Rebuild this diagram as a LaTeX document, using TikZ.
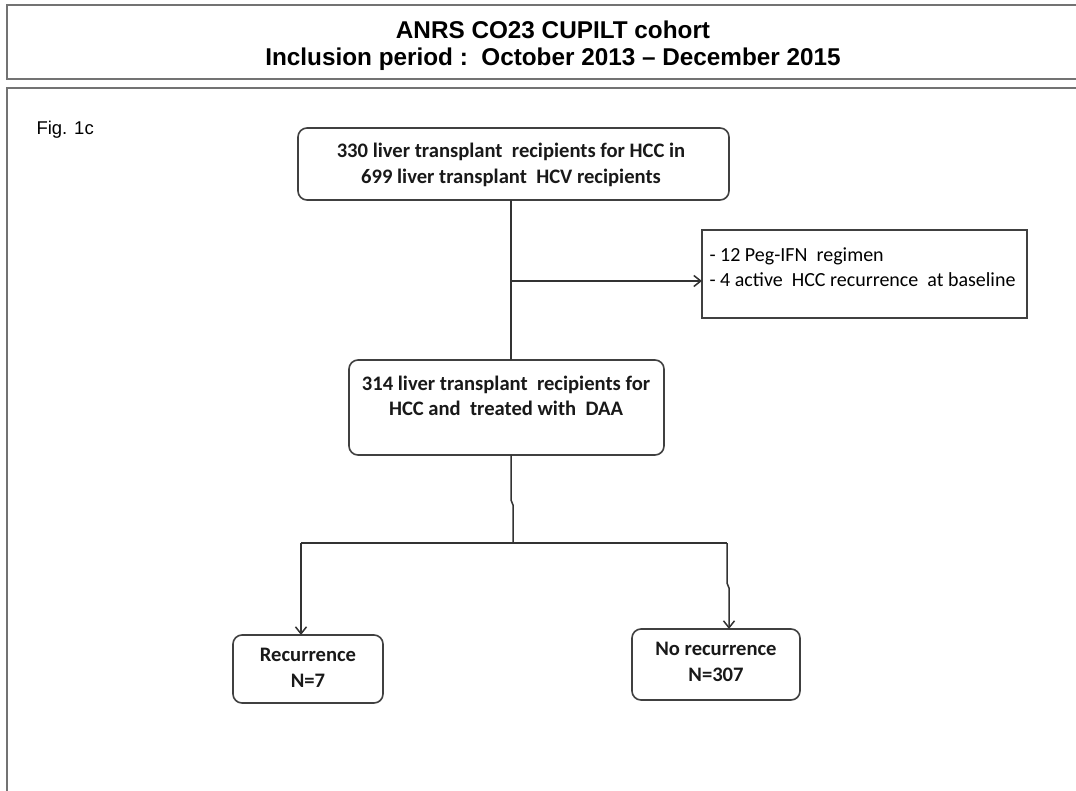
\documentclass[tikz,border=0pt]{standalone}
\usepackage{fontspec}
\setmainfont{Liberation Sans}
\newfontfamily\carlitofont{Carlito}
\usetikzlibrary{arrows.meta}
\begin{document}
\begin{tikzpicture}[x=1pt,y=-1pt,
  frame/.style={draw=black!55,line width=2pt},
  rbox/.style={draw=black!75,line width=1.6pt,rounded corners=9pt},
  sbox/.style={draw=black!75,line width=1.6pt},
  conn/.style={draw=black!80,line width=1.5pt},
  arr/.style={conn,-{Straight Barb[length=7pt,width=11pt]}},
  btxt/.style={font=\carlitofont\bfseries\fontsize{20.6}{25.5}\selectfont,align=center,text=black!90},
]
\useasboundingbox (0,0) rectangle (1076,790);
\fill[white] (0,0) rectangle (1076,790);
% frames
\draw[frame] (7,5) -- (1080,5) -- (1080,79) -- (7,79) -- cycle;
\draw[frame] (7,800) -- (7,88) -- (1080,88);
\node[font=\bfseries\fontsize{24.3}{27}\selectfont,align=center] (title) at (553,46)
  {ANRS CO23 CUPILT cohort\\Inclusion period :\ \ October 2013 -- December 2015};
\node[anchor=west,font=\fontsize{18.5}{20}\selectfont] (fig) at (33,130) {Fig. 1c};
% boxes
\draw[rbox] (298,128) rectangle (729,200);
\node[btxt] (b1) at (511,165) {330 liver transplant\ \ recipients for HCC in\\699 liver transplant\ \ HCV recipients};
\coordinate (b1s) at (511,200);
\draw[sbox] (702,230) rectangle (1027,318);
\node[anchor=west,font=\carlitofont\fontsize{20}{25.5}\selectfont,align=left] (b3) at (706,267)
  {- 12 Peg-IFN\ \ regimen\\- 4 active\ \ HCC recurrence\ \ at baseline};
\coordinate (b3w) at (702,281);
\draw[rbox] (349,360) rectangle (664,455);
\node[btxt] (b2) at (506,396) {314 liver transplant\ \ recipients for\\HCC and\ \ treated with\ \ DAA};
\coordinate (b2n) at (511,360);
\coordinate (b2s) at (511,455);
\draw[rbox] (233,635) rectangle (383,703);
\node[btxt] (b4) at (308,668) {Recurrence\\N=7};
\coordinate (b4n) at (301,635);
\draw[rbox] (632,629) rectangle (800,700);
\node[btxt] (b5) at (716,662) {No recurrence\\N=307};
\coordinate (b5n) at (729,629);
% connectors
\coordinate (j1) at (511,281);
\draw[conn] (b1s) -- (b2n);
\draw[arr] (j1) -- (b3w);
\coordinate (jog1) at (511,500);
\coordinate (jog2) at (513,505);
\coordinate (split) at (513,543);
\draw[conn] (b2s) -- (jog1) -- (jog2) -- (split);
\coordinate (lc) at (301,543);
\coordinate (rc) at (727,543);
\coordinate (rj1) at (727,583);
\coordinate (rj2) at (729,588);
\draw[conn] (lc) -- (rc);
\draw[arr] (lc) -- (b4n);
\draw[arr] (rc) -- (rj1) -- (rj2) -- (b5n);
\end{tikzpicture}
\end{document}
